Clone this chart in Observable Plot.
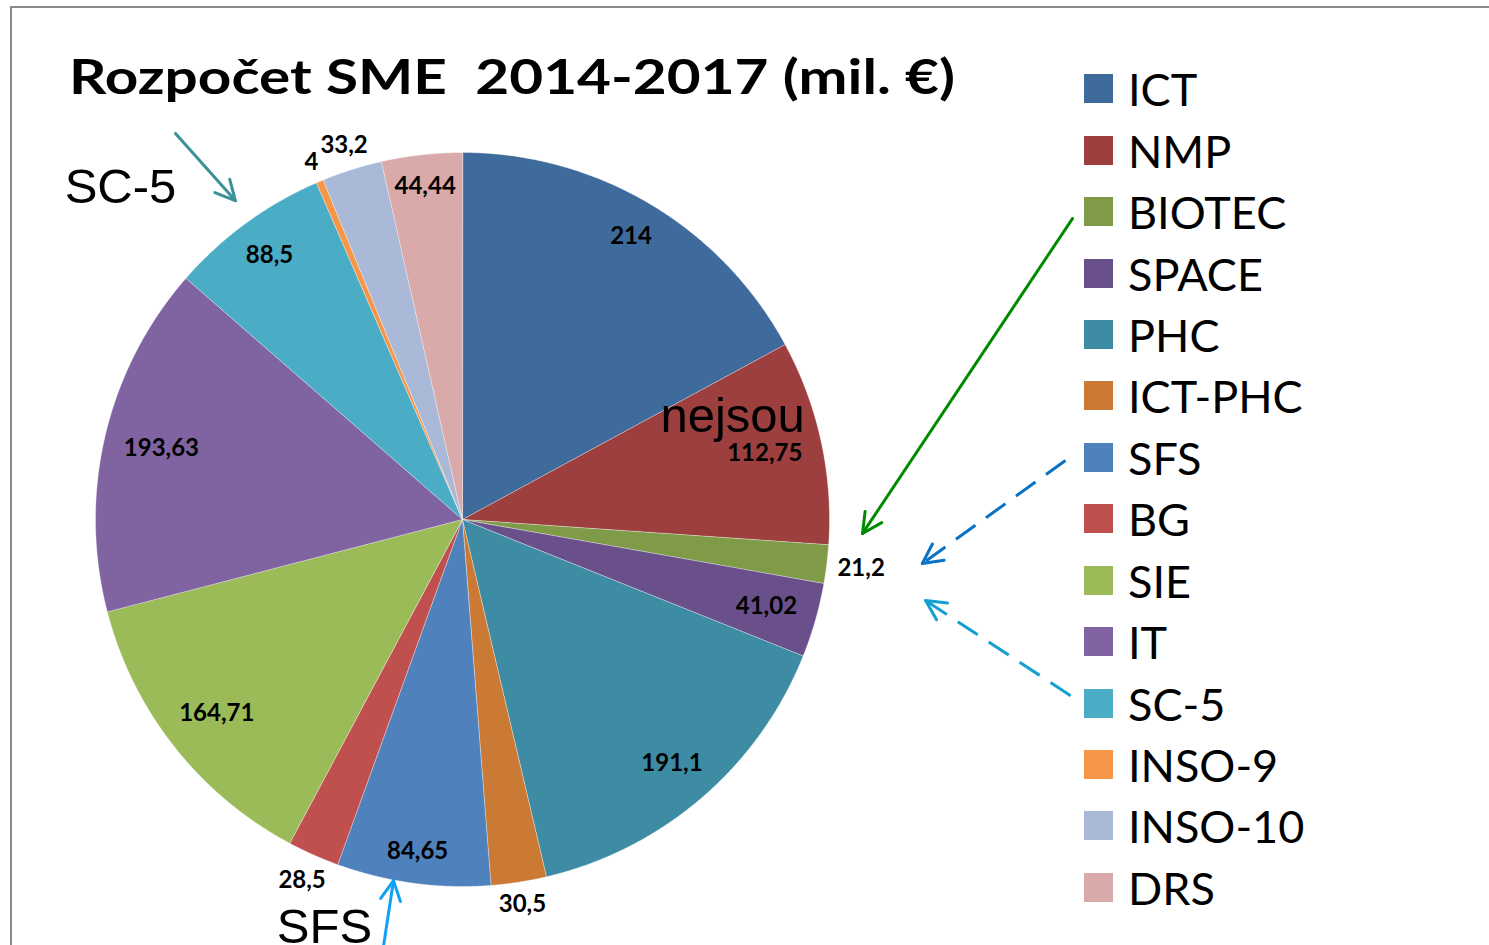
<!DOCTYPE html>
<html>
<head>
<meta charset="utf-8">
<script src="https://cdn.jsdelivr.net/npm/d3@7"></script>
<script src="https://cdn.jsdelivr.net/npm/@observablehq/plot@0.6"></script>
<style>
  html, body { margin: 0; padding: 0; background: #fff; overflow: hidden; }
  body { width: 1489px; height: 945px; position: relative; }
  #frame { position: absolute; left: 10px; top: 6px; width: 1500px; height: 960px; border: 2.5px solid #8a8a8a; box-sizing: border-box; }
  #chart { position: absolute; left: 0; top: 0; }
  #title { position: absolute; left: 69px; top: 53px; font-family: Lato, sans-serif; font-weight: 700; font-size: 47px; line-height: 1; white-space: pre; color: #000; transform-origin: 0 0; }
  #legend { position: absolute; left: 1084px; top: 59px; font-family: Lato, sans-serif; font-size: 45px; line-height: 1; color: #000; }
  .row { height: 61.45px; display: flex; align-items: center; }
  .sw { width: 29px; height: 29px; margin-right: 15px; margin-top: -2px; }
</style>
</head>
<body>
<div id="frame"></div>
<div id="chart"></div>
<div id="title">Rozpočet SME  2014-2017 (mil. €)</div>
<div id="legend"></div>
<script>
// ---- data ----
const names = ["ICT", "NMP", "BIOTEC", "SPACE", "PHC", "ICT-PHC", "SFS", "BG", "SIE", "IT", "SC-5", "INSO-9", "INSO-10", "DRS"];
const values = [214, 112.75, 21.2, 41.02, 191.1, 30.5, 84.65, 28.5, 164.71, 193.63, 88.5, 4, 33.2, 44.44];
const colors = ["#3F6A9C", "#9C3F3E", "#7F9B48", "#69508A", "#3D8CA3", "#CB7A36", "#4F81BD", "#C0504D", "#9BBB59", "#8064A2", "#4BACC6", "#F79646", "#AAB9D8", "#D9AAA9"];
const outsideLabels = ["BIOTEC", "ICT-PHC", "BG", "INSO-9", "INSO-10"];

// annotations (in pie-radius units, centre = 0,0)
const noteTexts = [
  {text: "nejsou", x: 0.736, y: 0.282},
  {text: "SC-5", x: -0.932, y: 0.905},
  {text: "SFS", x: -0.376, y: -1.112}
];
const noteArrows = [
  {x1: -0.782, y1: 1.052, x2: -0.619, y2: 0.869, color: "#3A9296", dash: null},
  {x1: 1.662, y1: 0.820, x2: 1.090, y2: -0.038, color: "#008A00", dash: null},
  {x1: 1.643, y1: 0.161, x2: 1.253, y2: -0.120, color: "#0A72C4", dash: "24,13"},
  {x1: 1.657, y1: -0.480, x2: 1.262, y2: -0.221, color: "#13A0D0", dash: "24,13"},
  {x1: -0.218, y1: -1.180, x2: -0.188, y2: -0.984, color: "#10A0F5", dash: null}
];

// ---- layout ----
const W = 1489, H = 945, R = 367, CX = 462, CY = 519;
const WING = 22 / R, WING_ANGLE = 27 * Math.PI / 180;
const LABEL_FONT = "bold 24px Lato", LABEL_HALF_H = 9, PAD_IN = 19, PAD_OUT = 10;

const rows = names.map((name, i) => ({name, value: values[i]}));
const arcs = d3.pie().sort(null).value(d => d.value)(rows);

// slice polygons (geometry of each arc)
const poly = [];
for (const a of arcs) {
  poly.push({name: a.data.name, x: 0, y: 0});
  const n = Math.max(2, Math.ceil((a.endAngle - a.startAngle) / 0.004));
  for (let k = 0; k <= n; k++) {
    const t = a.startAngle + (a.endAngle - a.startAngle) * k / n;
    poly.push({name: a.data.name, x: Math.sin(t), y: Math.cos(t)});
  }
}

// data labels: box kept a fixed gap inside (or outside) the rim
const ctx = document.createElement("canvas").getContext("2d");
ctx.font = LABEL_FONT;
const labels = arcs.map(a => {
  const m = (a.startAngle + a.endAngle) / 2;
  const text = String(a.data.value).replace(".", ",");
  const hw = ctx.measureText(text).width / 2;
  const ext = hw * Math.abs(Math.sin(m)) + LABEL_HALF_H * Math.abs(Math.cos(m));
  const rpx = outsideLabels.includes(a.data.name) ? R + PAD_OUT + ext : R - PAD_IN - ext;
  const r = rpx / R;
  return {x: r * Math.sin(m), y: r * Math.cos(m), text};
});

// arrows: shaft + two wing segments at the tip
const arrowMarks = noteArrows.flatMap(d => {
  const dx = d.x1 - d.x2, dy = d.y1 - d.y2, len = Math.hypot(dx, dy);
  const ux = dx / len, uy = dy / len;
  const wings = [-1, 1].map(s => {
    const c = Math.cos(s * WING_ANGLE), sn = Math.sin(s * WING_ANGLE);
    return {x1: d.x2, y1: d.y2, x2: d.x2 + WING * (ux * c - uy * sn), y2: d.y2 + WING * (ux * sn + uy * c)};
  });
  const opts = {x1: "x1", y1: "y1", x2: "x2", y2: "y2", stroke: d.color, strokeWidth: 3, strokeLinecap: "round"};
  return [
    Plot.link([d], d.dash ? {...opts, strokeDasharray: d.dash, strokeLinecap: "butt"} : opts),
    Plot.link(wings, opts)
  ];
});

const chart = Plot.plot({
  width: W, height: H,
  margin: 0,
  x: {domain: [-CX / R, (W - CX) / R], axis: null},
  y: {domain: [-(H - CY) / R, CY / R], axis: null},
  color: {domain: names, range: colors},
  style: {background: "transparent", overflow: "visible"},
  marks: [
    Plot.line(poly, {x: "x", y: "y", z: "name", fill: "name", stroke: "#ffffff", strokeWidth: 0.8, strokeOpacity: 0.45, curve: "linear-closed"}),
    Plot.text(labels, {x: "x", y: "y", text: "text", fontFamily: "Lato", fontWeight: "bold", fontSize: 24, fill: "#000"}),
    Plot.text(noteTexts, {x: "x", y: "y", text: "text", fontFamily: "Liberation Sans", fontSize: 49, fill: "#000"}),
    ...arrowMarks
  ]
});
document.getElementById("chart").appendChild(chart);

// title: stretch horizontally to the reference's span
const title = document.getElementById("title");
const tw = title.getBoundingClientRect().width;
title.style.transform = `scaleX(${886 / tw})`;

// legend
const lg = document.getElementById("legend");
names.forEach((n, i) => {
  const row = document.createElement("div");
  row.className = "row";
  const sw = document.createElement("div");
  sw.className = "sw";
  sw.style.background = colors[i];
  const tx = document.createElement("span");
  tx.textContent = n;
  row.appendChild(sw);
  row.appendChild(tx);
  lg.appendChild(row);
});
</script>
</body>
</html>
